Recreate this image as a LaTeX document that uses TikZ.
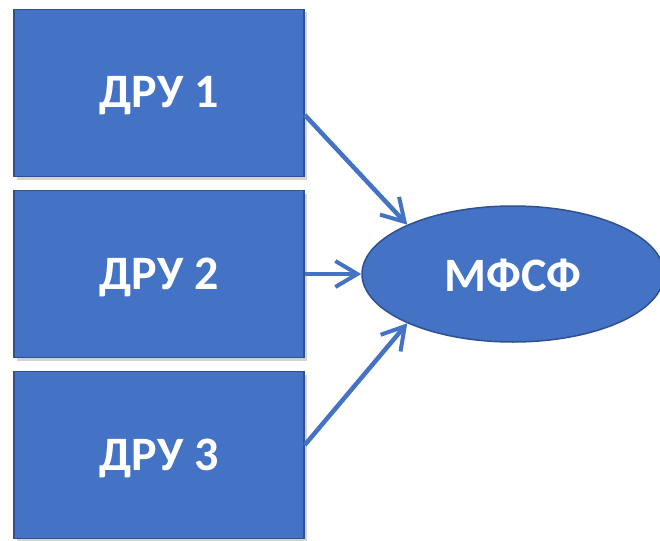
\documentclass[tikz,border=0pt]{standalone}
\usepackage{fontspec}
\setmainfont{Carlito}
\usepackage{tikz}
\usetikzlibrary{calc, positioning, shapes.geometric, arrows.meta, shadows}

\definecolor{boxblue}{HTML}{4472C4}
\definecolor{edgeblue}{HTML}{2F528F}

\begin{document}
\begin{tikzpicture}[x=1pt, y=-1pt, >={Straight Barb[length=22pt, width=26pt, line width=4pt]},
  unit/.style={draw=edgeblue, line width=1.5pt, fill=boxblue, minimum width=290pt, minimum height=167pt,
    inner sep=0pt, text=white, font=\fontsize{48}{48}\selectfont\bfseries, text height=30pt, text depth=0pt,
    drop shadow={shadow xshift=3pt, shadow yshift=-3pt, opacity=0.35}},
  link/.style={draw=boxblue, line width=4.5pt, ->}]
  \useasboundingbox (0,0) rectangle (660,540);
  \node [unit] (dru1) at (159,93) {ДРУ 1};
  \node [unit] (dru2) at (159,274) {ДРУ 2};
  \node [unit] (dru3) at (159,455) {ДРУ 3};
  \node [ellipse, draw=edgeblue, line width=1.5pt, fill=boxblue, minimum width=302pt, minimum height=136pt,
    inner sep=0pt, text=white, font=\fontsize{48}{48}\selectfont\bfseries, text height=34pt, text depth=0pt] (mfsf) at (513,274) {МФСФ};
  \draw [link] ($(dru1.east)+(0,22)$) -- (mfsf.155);
  \draw [link] (dru2.east) -- (mfsf.west);
  \draw [link] ($(dru3.east)+(0,-10)$) -- (mfsf.205);
\end{tikzpicture}
\end{document}
